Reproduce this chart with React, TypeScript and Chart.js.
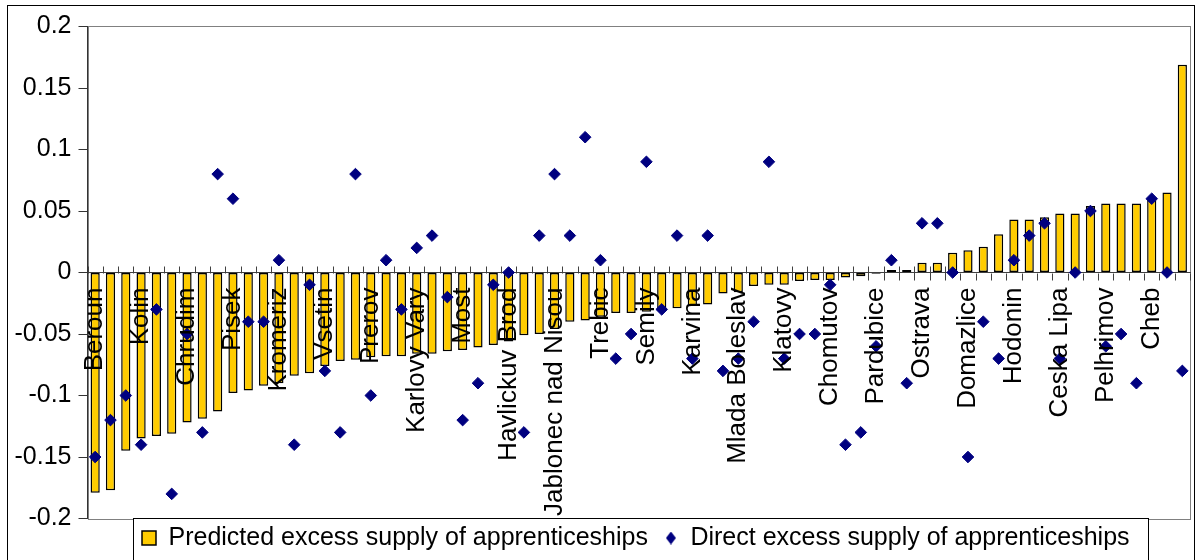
import React, { useEffect, useRef } from 'react';
import { Chart, registerables } from 'chart.js';

Chart.register(...registerables);

const FONT = "'Liberation Sans', Arial, sans-serif";

// District labels (only every third district is labelled on the axis)
const categories: string[] = [
  'Beroun', '', '', 'Kolin', '', '', 'Chrudim', '', '', 'Pisek', '', '',
  'Kromeriz', '', '', 'Vsetin', '', '', 'Prerov', '', '', 'Karlovy Vary', '', '',
  'Most', '', '', 'Havlickuv Brod', '', '', 'Jablonec nad Nisou', '', '', 'Trebic', '', '',
  'Semily', '', '', 'Karvina', '', '', 'Mlada Boleslav', '', '', 'Klatovy', '', '',
  'Chomutov', '', '', 'Pardubice', '', '', 'Ostrava', '', '', 'Domazlice', '', '',
  'Hodonin', '', '', 'Ceska Lipa', '', '', 'Pelhrimov', '', '', 'Cheb', '', '',
];

// Predicted excess supply of apprenticeships (bars)
const predicted: number[] = [
  -0.179, -0.177, -0.145, -0.135, -0.133, -0.131, -0.122, -0.119, -0.113, -0.098, -0.096, -0.092,
  -0.090, -0.084, -0.082, -0.076, -0.072, -0.071, -0.069, -0.068, -0.068, -0.066, -0.066, -0.064,
  -0.063, -0.061, -0.059, -0.056, -0.051, -0.050, -0.046, -0.040, -0.039, -0.036, -0.033, -0.033,
  -0.032, -0.030, -0.029, -0.027, -0.026, -0.017, -0.016, -0.011, -0.010, -0.010, -0.007, -0.006,
  -0.006, -0.004, -0.003, -0.001, 0.002, 0.002, 0.008, 0.008, 0.016, 0.018, 0.021, 0.031,
  0.043, 0.043, 0.045, 0.048, 0.048, 0.054, 0.056, 0.056, 0.056, 0.059, 0.065, 0.169,
];

// Direct excess supply of apprenticeships (diamonds)
const direct: number[] = [
  -0.15, -0.12, -0.10, -0.14, -0.03, -0.18, -0.05, -0.13, 0.08, 0.06, -0.04, -0.04,
  0.01, -0.14, -0.01, -0.08, -0.13, 0.08, -0.10, 0.01, -0.03, 0.02, 0.03, -0.02,
  -0.12, -0.09, -0.01, 0.00, -0.13, 0.03, 0.08, 0.03, 0.11, 0.01, -0.07, -0.05,
  0.09, -0.03, 0.03, -0.07, 0.03, -0.08, -0.07, -0.04, 0.09, -0.07, -0.05, -0.05,
  -0.01, -0.14, -0.13, -0.06, 0.01, -0.09, 0.04, 0.04, 0.00, -0.15, -0.04, -0.07,
  0.01, 0.03, 0.04, -0.07, 0.00, 0.05, -0.06, -0.05, -0.09, 0.06, 0.00, -0.08,
];

const seriesNames: string[] = [
  'Predicted excess supply of apprenticeships',
  'Direct excess supply of apprenticeships',
];

const yMin = -0.2;
const yMax = 0.2;
const yStep = 0.05;

const BAR_FILL = '#FFCC00';
const DIAMOND = '#000080';

function makeDiamond(): HTMLCanvasElement {
  const c = document.createElement('canvas');
  c.width = 10;
  c.height = 13;
  const g = c.getContext('2d')!;
  g.fillStyle = DIAMOND;
  g.beginPath();
  g.moveTo(5, 0);
  g.lineTo(10, 6.5);
  g.lineTo(5, 13);
  g.lineTo(0, 6.5);
  g.closePath();
  g.fill();
  return c;
}

const framePlugin = {
  id: 'excelFrame',
  afterLayout(chart: any) {
    const lg = chart.legend;
    if (lg) {
      lg.left = 126;
      lg.right = 1148;
      lg.width = lg.right - lg.left;
      lg.top = 509.5;
      lg.bottom = 560;
      lg.height = lg.bottom - lg.top;
    }
  },
  beforeDraw(chart: any) {
    const { ctx, chartArea: a } = chart;
    ctx.save();
    ctx.lineWidth = 1;
    ctx.strokeStyle = '#808080';
    ctx.strokeRect(Math.round(a.left) + 0.5, Math.round(a.top) - 0.5, Math.round(a.right - a.left) - 1, Math.round(a.bottom - a.top) + 1);
    // legend box
    const top = Math.round(a.bottom) - 0.5;
    ctx.fillStyle = '#ffffff';
    ctx.fillRect(133, top, 1015, 80);
    ctx.strokeStyle = '#000000';
    ctx.strokeRect(133.5, top, 1015, 80);
    // outer chart frame
    ctx.strokeRect(7.5, 5.5, 1187, 620);
    ctx.restore();
  },
  afterDatasetsDraw(chart: any) {
    const { ctx } = chart;
    const xs = chart.scales.x;
    const ys = chart.scales.y;
    const y0 = Math.round(ys.getPixelForValue(0)) + 0.5;
    const n = predicted.length;
    const step = xs.getPixelForValue(1) - xs.getPixelForValue(0);
    const start = xs.getPixelForValue(0) - step / 2;
    ctx.save();
    ctx.strokeStyle = '#404040';
    ctx.lineWidth = 1;
    for (let k = 0; k <= n; k++) {
      const x = Math.round(start + k * step) + 0.5;
      const a = predicted[Math.max(0, k - 1)];
      const b = predicted[Math.min(n - 1, k)];
      const up = !(a > 0.009 && b > 0.009);
      const down = !(a < -0.009 && b < -0.009);
      ctx.beginPath();
      ctx.moveTo(x, up ? y0 - 7 : y0);
      ctx.lineTo(x, down ? y0 + 7 : y0);
      ctx.stroke();
    }
    ctx.restore();
  },
};

export default function App() {
  const ref = useRef<HTMLCanvasElement>(null);

  useEffect(() => {
    if (!ref.current) return;
    const diamond = makeDiamond();
    const chart = new Chart(ref.current, {
      type: 'bar',
      data: {
        labels: categories,
        datasets: [
          {
            type: 'bar',
            label: seriesNames[0],
            data: predicted,
            backgroundColor: BAR_FILL,
            borderColor: '#000000',
            borderWidth: 1.5,
            borderSkipped: false,
            barPercentage: 0.6,
            categoryPercentage: 1,
            pointStyle: 'rect',
            order: 1,
          } as any,
          {
            type: 'line',
            label: seriesNames[1],
            data: direct,
            showLine: false,
            pointStyle: 'rectRot',
            pointRadius: 5.8,
            pointHoverRadius: 5.8,
            pointBackgroundColor: DIAMOND,
            pointBorderColor: DIAMOND,
            pointBorderWidth: 1,
            backgroundColor: DIAMOND,
            borderColor: DIAMOND,
            order: 0,
          } as any,
        ],
      },
      options: {
        animation: false,
        responsive: true,
        maintainAspectRatio: false,
        events: [],
        layout: { padding: { left: 0, right: 7, top: 26.5, bottom: 0 } },
        scales: {
          x: {
            type: 'category',
            position: { y: 0 } as any,
            offset: true,
            afterFit: (s: any) => {
              s.paddingLeft = 0;
              s.paddingRight = 0;
            },
            grid: { display: false, drawTicks: false },
            border: { display: true, color: '#404040', width: 1 },
            ticks: {
              autoSkip: false,
              minRotation: 90,
              maxRotation: 90,
              padding: 15,
              color: '#000000',
              font: { size: 26, family: FONT },
              z: 1,
            },
          },
          y: {
            min: yMin,
            max: yMax,
            afterFit: (s: any) => {
              s.width = 87.5;
            },
            grid: { drawOnChartArea: false, drawTicks: true, tickLength: 9, color: '#333333' },
            border: { display: true, color: '#333333', width: 1 },
            ticks: {
              stepSize: yStep,
              padding: 7,
              color: '#000000',
              font: { size: 25, family: FONT },
              callback: (v: any) => String(Math.round(Number(v) * 100) / 100),
            },
          },
        },
        plugins: {
          tooltip: { enabled: false },
          legend: {
            display: true,
            position: 'bottom',
            align: 'start',
            maxHeight: 41.5,
            labels: {
              color: '#000000',
              font: { size: 25, family: FONT },
              usePointStyle: true,
              boxWidth: 14,
              boxHeight: 14,
              padding: 16,
              generateLabels: (c: any) => {
                const items = (Chart as any).defaults.plugins.legend.labels.generateLabels(c);
                items.sort((p: any, q: any) => p.datasetIndex - q.datasetIndex);
                items.forEach((it: any) => {
                  it.pointStyle = it.datasetIndex === 0 ? 'rect' : diamond;
                });
                return items;
              },
            },
          },
        },
      },
      plugins: [framePlugin],
    } as any);
    return () => chart.destroy();
  }, []);

  return (
    <div
      style={{
        position: 'absolute',
        left: 0,
        top: 0,
        width: 1197,
        height: 560,
        overflow: 'hidden',
        background: '#ffffff',
      }}
    >
      <canvas ref={ref} />
    </div>
  );
}
